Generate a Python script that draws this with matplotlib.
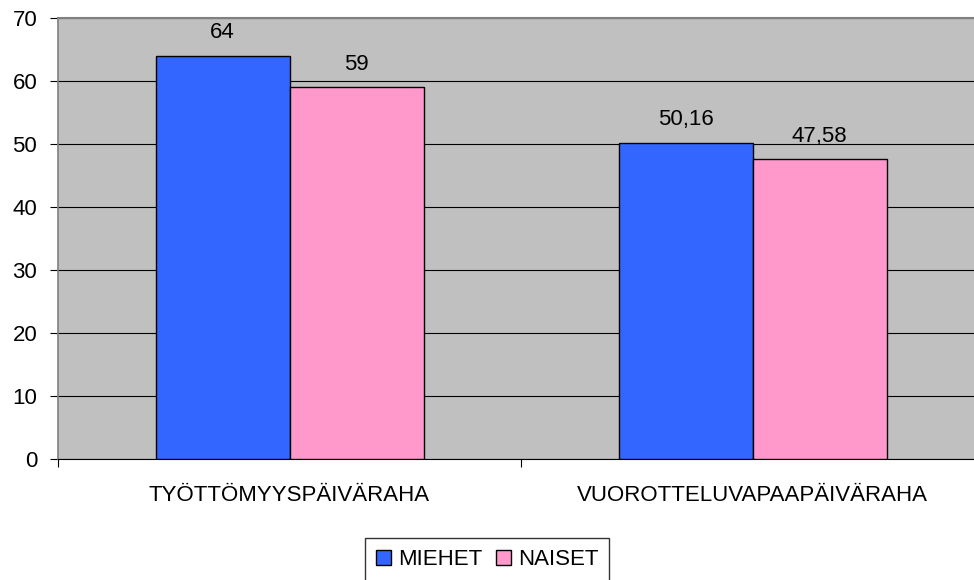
import numpy as np
from matplotlib import pyplot as plt

categories = ["TYÖTTÖMYYSPÄIVÄRAHA", "VUOROTTELUVAPAAPÄIVÄRAHA"]
miehet = [64, 50.16]
naiset = [59, 47.58]
miehet_labels = ["64", "50,16"]
naiset_labels = ["59", "47,58"]

plt.rcParams['font.family'] = ['Liberation Sans', 'DejaVu Sans']
plt.rcParams['font.size'] = 16

fig = plt.figure(figsize=(9.74, 5.8), dpi=100)
ax = fig.add_axes([58 / 974, 121 / 580, 926 / 974, 441 / 580])
ax.set_facecolor('#C0C0C0')

x = np.arange(len(categories)) + 0.5
w = 134 / 463
b1 = ax.bar(x - w / 2, miehet, w, color='#3366FF', edgecolor='black', linewidth=1, label='MIEHET', zorder=3)
b2 = ax.bar(x + w / 2, naiset, w, color='#FF99CC', edgecolor='black', linewidth=1, label='NAISET', zorder=3)

for bars, labels in ((b1, miehet_labels), (b2, naiset_labels)):
    for bar, lab in zip(bars, labels):
        ax.text(bar.get_x() + bar.get_width() / 2, bar.get_height() + 2.0, lab,
                ha='center', va='bottom', fontsize=16)

ax.set_xlim(0, 2)
ax.set_ylim(0, 70)
ax.set_yticks(range(0, 71, 10))
ax.yaxis.grid(True, color='black', linewidth=0.8, zorder=1)
ax.set_axisbelow(True)

ax.set_xticks([0, 1, 2])
ax.set_xticklabels([])
ax.set_xticks(x, minor=True)
ax.set_xticklabels(categories, minor=True)
ax.tick_params(axis='x', which='major', length=6, direction='out', color='black')
ax.tick_params(axis='x', which='minor', length=0, pad=19)
ax.tick_params(axis='y', length=6, direction='out', pad=9)

ax.spines['top'].set_color('#808080')
ax.spines['top'].set_linewidth(1.5)
ax.spines['left'].set_color('#808080')
ax.spines['left'].set_linewidth(1.2)
ax.spines['right'].set_visible(False)
ax.spines['bottom'].set_color('black')

leg = fig.legend(loc='upper center', bbox_to_anchor=(487 / 974, 1 - 527 / 580), ncol=2,
                 frameon=True, fancybox=False, edgecolor='black', handlelength=0.7,
                 handleheight=0.7, handletextpad=0.3, columnspacing=0.6, borderpad=0.5)
leg.get_frame().set_linewidth(1)

fig.savefig("out.png", dpi=100)
